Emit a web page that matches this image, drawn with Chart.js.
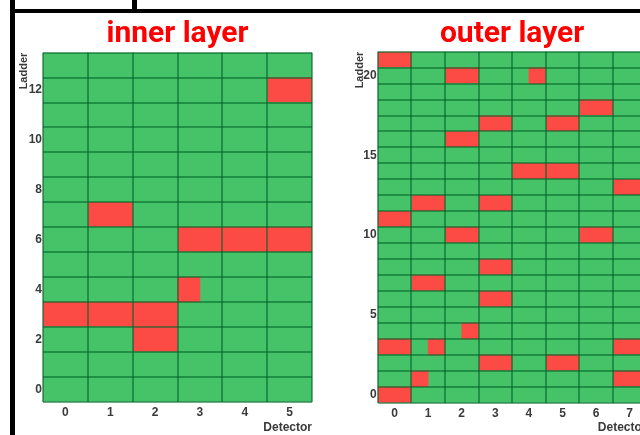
<!DOCTYPE html>
<html>
<head>
<meta charset="utf-8">
<script src="https://cdn.jsdelivr.net/npm/chart.js@4/dist/chart.umd.min.js"></script>
<style>
  html, body { margin: 0; padding: 0; background: #fff; }
  body { width: 640px; height: 435px; position: relative; overflow: hidden; }
  .panel { position: absolute; top: 0; height: 435px; }
  #innerWrap { left: 15px; width: 315px; }
  #outerWrap { left: 335px; width: 330px; }
  .rule { position: absolute; background: #000; z-index: 5; }
</style>
</head>
<body>
<div class="rule" style="left:10px;top:0;width:5px;height:435px"></div>
<div class="rule" style="left:10px;top:9px;width:127px;height:4px"></div>
<div class="rule" style="left:132px;top:0;width:5px;height:13px"></div>
<div class="rule" style="left:137px;top:9px;width:503px;height:3.5px"></div>

<div class="panel" id="innerWrap"><canvas id="inner"></canvas></div>
<div class="panel" id="outerWrap"><canvas id="outer"></canvas></div>

<script>
// Status codes per module: 0 = working, 1 = dead,
// 'L' / 'R' = only the left / right half of the module is dead.

// ---- inner layer ----
const innerLadders = [0, 1, 2, 3, 4, 5, 6, 7, 8, 9, 10, 11, 12, 13];
const innerDetectors = [0, 1, 2, 3, 4, 5];
const innerLadderTicks = [0, 2, 4, 6, 8, 10, 12];
const innerStatus = [
  [0, 0, 0, 0, 0, 0],     // ladder 0
  [0, 0, 0, 0, 0, 0],     // 1
  [0, 0, 1, 0, 0, 0],     // 2
  [1, 1, 1, 0, 0, 0],     // 3
  [0, 0, 0, 'L', 0, 0],   // 4
  [0, 0, 0, 0, 0, 0],     // 5
  [0, 0, 0, 1, 1, 1],     // 6
  [0, 1, 0, 0, 0, 0],     // 7
  [0, 0, 0, 0, 0, 0],     // 8
  [0, 0, 0, 0, 0, 0],     // 9
  [0, 0, 0, 0, 0, 0],     // 10
  [0, 0, 0, 0, 0, 0],     // 11
  [0, 0, 0, 0, 0, 1],     // 12
  [0, 0, 0, 0, 0, 0]      // 13
];

// ---- outer layer ----
const outerLadders = [0, 1, 2, 3, 4, 5, 6, 7, 8, 9, 10, 11, 12, 13, 14, 15, 16, 17, 18, 19, 20, 21];
const outerDetectors = [0, 1, 2, 3, 4, 5, 6, 7];
const outerLadderTicks = [0, 5, 10, 15, 20];
const outerStatus = [
  [1, 0, 0, 0, 0, 0, 0, 0],     // ladder 0
  [0, 'L', 0, 0, 0, 0, 0, 1],   // 1
  [0, 0, 0, 1, 0, 1, 0, 0],     // 2
  [1, 'R', 0, 0, 0, 0, 0, 1],   // 3
  [0, 0, 'R', 0, 0, 0, 0, 0],   // 4
  [0, 0, 0, 0, 0, 0, 0, 0],     // 5
  [0, 0, 0, 1, 0, 0, 0, 0],     // 6
  [0, 1, 0, 0, 0, 0, 0, 0],     // 7
  [0, 0, 0, 1, 0, 0, 0, 0],     // 8
  [0, 0, 0, 0, 0, 0, 0, 0],     // 9
  [0, 0, 1, 0, 0, 0, 1, 0],     // 10
  [1, 0, 0, 0, 0, 0, 0, 0],     // 11
  [0, 1, 0, 1, 0, 0, 0, 0],     // 12
  [0, 0, 0, 0, 0, 0, 0, 1],     // 13
  [0, 0, 0, 0, 1, 1, 0, 0],     // 14
  [0, 0, 0, 0, 0, 0, 0, 0],     // 15
  [0, 0, 1, 0, 0, 0, 0, 0],     // 16
  [0, 0, 0, 1, 0, 1, 0, 0],     // 17
  [0, 0, 0, 0, 0, 0, 1, 0],     // 18
  [0, 0, 0, 0, 0, 0, 0, 0],     // 19
  [0, 0, 1, 0, 'R', 0, 0, 0],   // 20
  [1, 0, 0, 0, 0, 0, 0, 0]      // 21
];

const GREEN = '#46c369';
const RED = '#fc4a44';
const GRID = 'rgba(0, 100, 40, 0.55)';
const TEXT = '#3a3a3a';
const FONT = "'Liberation Sans', Arial, sans-serif";

// One floating bar per module; half-dead modules get an extra half-width bar on top.
// Rows are listed top-down (highest ladder first) on the category axis.
function buildDatasets(status, detectors) {
  const rows = status.slice().reverse();
  const sets = [];
  detectors.forEach((det, d) => {
    sets.push({
      order: 1,
      data: rows.map(() => [det - 0.5, det + 0.5]),
      backgroundColor: rows.map(row => (row[d] === 1 ? RED : GREEN))
    });
  });
  detectors.forEach((det, d) => {
    sets.push({
      order: 0,
      data: rows.map(row => row[d] === 'L' ? [det - 0.5, det]
                          : row[d] === 'R' ? [det, det + 0.5] : null),
      backgroundColor: RED
    });
  });
  return sets;
}

function makeChart(id, cfg) {
  const nDet = cfg.detectors.length;
  return new Chart(document.getElementById(id), {
    type: 'bar',
    data: {
      labels: cfg.ladders.slice().reverse().map(String),
      datasets: buildDatasets(cfg.status, cfg.detectors)
    },
    options: {
      responsive: true,
      maintainAspectRatio: false,
      animation: false,
      indexAxis: 'y',
      layout: { padding: { left: 0, right: cfg.padRight, top: 0, bottom: 0 } },
      datasets: {
        bar: { grouped: false, barPercentage: 1, categoryPercentage: 1, borderWidth: 0, borderSkipped: false }
      },
      plugins: {
        legend: { display: false },
        tooltip: { enabled: false },
        title: {
          display: true,
          text: cfg.title,
          color: '#ff0000',
          fullSize: false,
          font: { family: "Roboto, 'DejaVu Sans', sans-serif", size: 30, weight: 'bold', lineHeight: 1 },
          padding: { top: 19.5, bottom: cfg.titleGap }
        }
      },
      scales: {
        x: {
          type: 'linear',
          min: -0.5,
          max: nDet - 0.5,
          afterBuildTicks(scale) {
            const t = [];
            cfg.detectors.forEach(det => { t.push({ value: det - 0.5 }); t.push({ value: det }); });
            t.push({ value: nDet - 0.5 });
            scale.ticks = t;
          },
          afterFit(scale) { scale.height = cfg.xAxisHeight; },
          border: { display: false },
          grid: {
            z: 1,
            drawTicks: false,
            lineWidth: 2,
            color: ctx => (ctx.tick && Number.isInteger(ctx.tick.value)) ? 'rgba(0,0,0,0)' : GRID
          },
          ticks: {
            autoSkip: false,
            maxRotation: 0,
            padding: 4,
            color: TEXT,
            font: { family: FONT, size: 12, weight: 'bold' },
            callback: v => (Number.isInteger(v) ? String(v) : '')
          },
          title: {
            display: true,
            text: 'Detector',
            align: 'end',
            color: TEXT,
            font: { family: FONT, size: 12, weight: 'bold', lineHeight: 1.2 },
            padding: { top: 0, bottom: 0 }
          }
        },
        y: {
          type: 'category',
          afterFit(scale) { scale.width = cfg.yAxisWidth; },
          border: { display: false },
          grid: { z: 1, offset: true, drawTicks: false, lineWidth: 2, color: GRID },
          ticks: {
            autoSkip: false,
            padding: 1,
            color: TEXT,
            font: { family: FONT, size: 12, weight: 'bold' },
            callback(v) {
              const lab = this.getLabelForValue(v);
              return cfg.ladderTicks.includes(Number(lab)) ? lab : '';
            }
          },
          title: {
            display: true,
            text: 'Ladder',
            align: 'end',
            color: TEXT,
            font: { family: FONT, size: 11, weight: 'bold', lineHeight: 1.2 },
            padding: { top: cfg.yTitlePad, bottom: 0 }
          }
        }
      }
    }
  });
}

makeChart('inner', {
  title: 'inner layer',
  ladders: innerLadders,
  detectors: innerDetectors,
  ladderTicks: innerLadderTicks,
  status: innerStatus,
  padRight: 18,
  yAxisWidth: 28,
  xAxisHeight: 33.3,
  titleGap: 3.2,
  yTitlePad: 2
});

makeChart('outer', {
  title: 'outer layer',
  ladders: outerLadders,
  detectors: outerDetectors,
  ladderTicks: outerLadderTicks,
  status: outerStatus,
  padRight: 18.5,
  yAxisWidth: 42.7,
  xAxisHeight: 32.3,
  titleGap: 2.2,
  yTitlePad: 18
});
</script>
</body>
</html>
